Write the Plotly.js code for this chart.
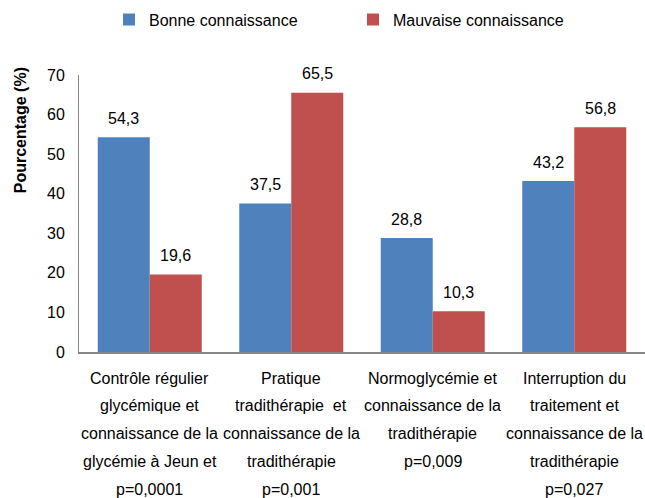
<!DOCTYPE html>
<html>
<head>
<meta charset="utf-8">
<script src="https://cdn.plot.ly/plotly-3.0.1.min.js"></script>
<style>html,body{margin:0;padding:0;background:#fff;}#chart{width:645px;height:498px;}</style>
</head>
<body>
<div id="chart"></div>
<script>
const categories = [
  ["Contrôle régulier", "glycémique et", "connaissance de la", "glycémie à Jeun et", "p=0,0001"],
  ["Pratique", "tradithérapie  et", "connaissance de la", "tradithérapie", "p=0,001"],
  ["Normoglycémie et", "connaissance de la", "tradithérapie", "p=0,009"],
  ["Interruption du", "traitement et", "connaissance de la", "tradithérapie", "p=0,027"]
];
const seriesNames = ["Bonne connaissance", "Mauvaise connaissance"];
const bonne = [54.3, 37.5, 28.8, 43.2];
const mauvaise = [19.6, 65.5, 10.3, 56.8];
const yTicks = [0, 10, 20, 30, 40, 50, 60, 70];

const colors = ["#4F81BD", "#C0504D"];
const FONT = "Liberation Sans, Arial, sans-serif";
const xIdx = categories.map((c, i) => i);
const bargap = 0.265;
const half = (1 - bargap) / 4;

const fmt = v => String(v).replace(".", ",");

const traces = [bonne, mauvaise].map((vals, k) => ({
  type: "bar",
  name: seriesNames[k],
  x: xIdx,
  y: vals,
  marker: {color: colors[k], line: {width: 0}},
  hoverinfo: "none"
}));

const annotations = [];
[bonne, mauvaise].forEach((vals, k) => {
  vals.forEach((v, i) => {
    annotations.push({
      x: i + (k === 0 ? -half : half), y: v, xref: "x", yref: "y",
      text: fmt(v), showarrow: false, yanchor: "middle", yshift: 19,
      font: {family: FONT, size: 16, color: "#000"}
    });
  });
});
categories.forEach((lines, i) => {
  lines.forEach((ln, j) => {
    annotations.push({
      x: i, y: 0, xref: "x", yref: "y",
      text: ln, showarrow: false, yanchor: "middle", yshift: -(26 + j * 27.75),
      font: {family: FONT, size: 16, color: "#000"}
    });
  });
});
annotations.push({
  x: -0.104, y: 0.801, xref: "paper", yref: "paper",
  text: "<b>Pourcentage (%)</b>", textangle: -90, showarrow: false,
  xanchor: "center", yanchor: "middle",
  font: {family: FONT, size: 16, color: "#000"}
});

const layout = {
  width: 645, height: 498,
  margin: {l: 79, r: 0, t: 75, b: 146, autoexpand: false},
  paper_bgcolor: "#fff", plot_bgcolor: "#fff",
  barmode: "group", bargap: bargap, bargroupgap: 0,
  font: {family: FONT, size: 16, color: "#000"},
  showlegend: true,
  legend: {
    orientation: "h", x: 0.053, xanchor: "left", y: 1.2, yanchor: "middle",
    entrywidth: 199, entrywidthmode: "pixels", itemwidth: 30,
    font: {family: FONT, size: 16, color: "#000"}, bgcolor: "rgba(0,0,0,0)"
  },
  xaxis: {
    type: "linear", range: [-0.5, 3.5], showticklabels: false, ticks: "",
    showgrid: false, zeroline: false, showline: true, linecolor: "#868686", linewidth: 1.5,
    fixedrange: true
  },
  yaxis: {
    range: [0, 70], tickvals: yTicks, ticktext: yTicks.map(String), ticks: "",
    showgrid: false, zeroline: false, showline: true, linecolor: "#868686", linewidth: 1,
    tickfont: {family: FONT, size: 16, color: "#000"}, ticklabelstandoff: 10,
    fixedrange: true
  },
  annotations: annotations
};

Plotly.newPlot("chart", traces, layout, {displayModeBar: false, staticPlot: true});
</script>
</body>
</html>
